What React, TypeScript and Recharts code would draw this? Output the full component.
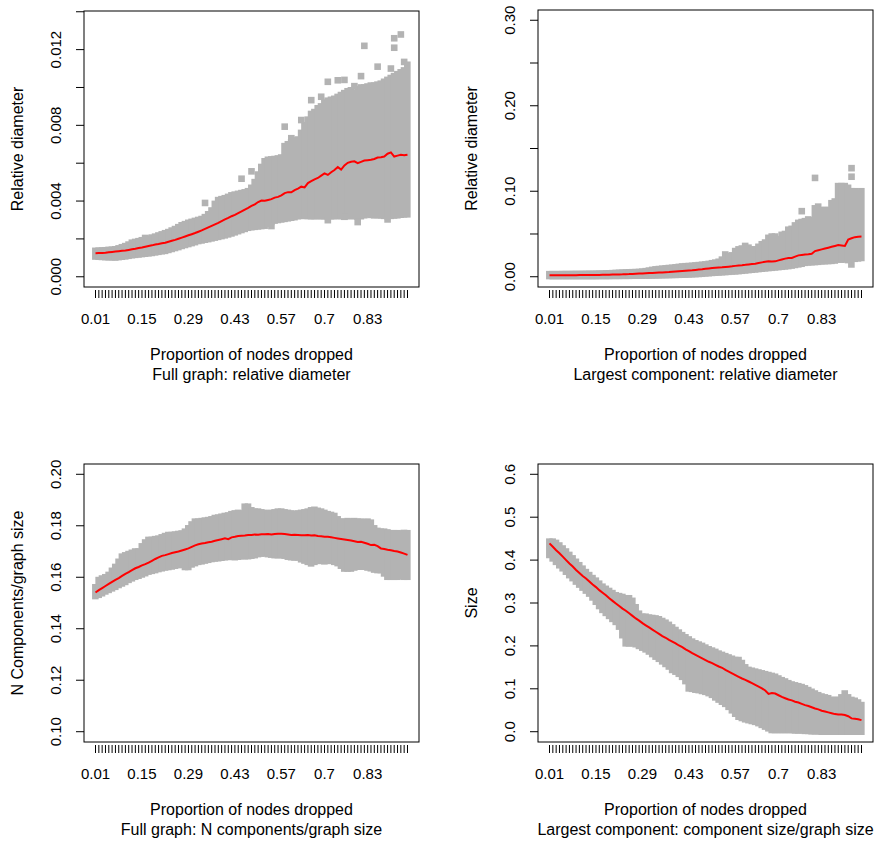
import React from 'react';
import { ComposedChart, Bar, Line, XAxis, YAxis } from 'recharts';

// Categories: proportion of nodes dropped
const PROPORTIONS = [
  0.01, 0.02, 0.03, 0.04, 0.05, 0.06, 0.07, 0.08, 0.09, 0.1,
  0.11, 0.12, 0.13, 0.14, 0.15, 0.16, 0.17, 0.18, 0.19, 0.2,
  0.21, 0.22, 0.23, 0.24, 0.25, 0.26, 0.27, 0.28, 0.29, 0.3,
  0.31, 0.32, 0.33, 0.34, 0.35, 0.36, 0.37, 0.38, 0.39, 0.4,
  0.41, 0.42, 0.43, 0.44, 0.45, 0.46, 0.47, 0.48, 0.49, 0.5,
  0.51, 0.52, 0.53, 0.54, 0.55, 0.56, 0.57, 0.58, 0.59, 0.6,
  0.61, 0.62, 0.63, 0.64, 0.65, 0.66, 0.67, 0.68, 0.69, 0.7,
  0.71, 0.72, 0.73, 0.74, 0.75, 0.76, 0.77, 0.78, 0.79, 0.8,
  0.81, 0.82, 0.83, 0.84, 0.85, 0.86, 0.87, 0.88, 0.89, 0.9,
  0.91, 0.92, 0.93, 0.94, 0.95,
];
// x tick labels that R had room to print
const X_TICK_LABELS = ['0.01', '0.15', '0.29', '0.43', '0.57', '0.7', '0.83'];

// ---------- Panel 1: Full graph, relative diameter ----------
const P1_MEAN = [
  0.00124, 0.00125, 0.00126, 0.00127, 0.00129, 0.00131, 0.00133, 0.00135, 0.00137, 0.00139,
  0.00142, 0.00145, 0.00148, 0.00152, 0.00155, 0.00159, 0.00163, 0.00166, 0.0017, 0.00173,
  0.00177, 0.0018, 0.00185, 0.0019, 0.00195, 0.00201, 0.00207, 0.00213, 0.00219, 0.00225,
  0.00231, 0.00238, 0.00245, 0.00253, 0.00261, 0.00269, 0.00277, 0.00285, 0.00294, 0.00303,
  0.00311, 0.0032, 0.00327, 0.00336, 0.00345, 0.00355, 0.00364, 0.00374, 0.00383, 0.00395,
  0.00403, 0.00402, 0.00406, 0.0041, 0.00418, 0.00422, 0.0043, 0.00442, 0.00447, 0.00446,
  0.00458, 0.00466, 0.00476, 0.00472, 0.00495, 0.00505, 0.00515, 0.00522, 0.00534, 0.00546,
  0.00538, 0.00552, 0.00564, 0.0058, 0.00566, 0.00588, 0.00602, 0.00608, 0.0061, 0.006,
  0.00607, 0.00614, 0.00616, 0.00618, 0.00622, 0.0063, 0.00632, 0.00635, 0.0065, 0.00657,
  0.00635, 0.0064, 0.00644, 0.00642, 0.00645,
];
const P1_HIGH = [
  0.00137, 0.00138, 0.00139, 0.0014, 0.00142, 0.00143, 0.00145, 0.0015, 0.00156, 0.00162,
  0.0017, 0.0018, 0.00184, 0.00188, 0.00193, 0.00205, 0.00202, 0.00207, 0.00212, 0.00218,
  0.00224, 0.0023, 0.00236, 0.00244, 0.00252, 0.00262, 0.00272, 0.00278, 0.00285, 0.0029,
  0.00295, 0.003, 0.00305, 0.00315, 0.0033, 0.0035, 0.00385, 0.00405, 0.0041, 0.00415,
  0.00422, 0.0043, 0.00434, 0.00438, 0.00442, 0.00446, 0.00452, 0.0047, 0.005, 0.0054,
  0.0058, 0.0061, 0.00618, 0.0062, 0.00622, 0.00625, 0.0063, 0.0069, 0.007, 0.0071,
  0.0072, 0.00725, 0.0076, 0.008, 0.0083, 0.0086, 0.0087, 0.0089, 0.009, 0.0092,
  0.0093, 0.00935, 0.0094, 0.0095, 0.0096, 0.0097, 0.0098, 0.00985, 0.0097, 0.0099,
  0.01, 0.01, 0.01005, 0.0101, 0.0101, 0.01015, 0.0102, 0.0103, 0.0104, 0.0105,
  0.0106, 0.0107, 0.0108, 0.0109, 0.0112,
];
const P1_LOW = [
  0.00107, 0.00106, 0.00105, 0.00104, 0.00103, 0.00103, 0.00102, 0.00104, 0.00106, 0.00108,
  0.00111, 0.00114, 0.00116, 0.00118, 0.0012, 0.00122, 0.00124, 0.00126, 0.00129, 0.00132,
  0.00135, 0.00137, 0.00142, 0.00147, 0.00152, 0.00157, 0.00163, 0.00168, 0.00173, 0.00178,
  0.00183, 0.00189, 0.00192, 0.00196, 0.00199, 0.00203, 0.00207, 0.00211, 0.00215, 0.00219,
  0.00224, 0.00229, 0.00235, 0.00241, 0.00247, 0.00253, 0.00259, 0.00262, 0.00264, 0.00266,
  0.00268, 0.0027, 0.0028, 0.0029, 0.00297, 0.003, 0.00303, 0.00306, 0.00309, 0.00312,
  0.00315, 0.0032, 0.00322, 0.00322, 0.00321, 0.0032, 0.0032, 0.00321, 0.0032, 0.0032,
  0.00318, 0.0032, 0.0032, 0.00322, 0.0032, 0.00318, 0.0032, 0.00322, 0.0032, 0.00318,
  0.0032, 0.00325, 0.00329, 0.00327, 0.00325, 0.00326, 0.00324, 0.00322, 0.0032, 0.00322,
  0.00324, 0.00325, 0.00328, 0.0033, 0.0033,
];
// isolated squares: [category index, value]
const P1_OUTLIERS: [number, number][] = [
  [33, 0.0039], [44, 0.00518], [47, 0.00557], [57, 0.00793], [59, 0.00732], [62, 0.00828],
  [65, 0.00933], [68, 0.00951], [70, 0.0103], [73, 0.01038], [75, 0.0104], [78, 0.01007],
  [80, 0.0106], [81, 0.0122], [85, 0.0111], [89, 0.011], [90, 0.0121], [90, 0.0126],
  [92, 0.0128], [93, 0.01135],
  [53, 0.00268], [70, 0.00299], [75, 0.00317], [79, 0.00289], [88, 0.00303],
];
const P1_TICKS = [0, 0.002, 0.004, 0.006, 0.008, 0.01, 0.012, 0.014];
const P1_TICK_LABELS = ['0.000', '', '0.004', '', '0.008', '', '0.012', ''];

// ---------- Panel 2: Largest component, relative diameter ----------
const P2_MEAN = [
  0.0016, 0.0016, 0.0016, 0.0017, 0.0017, 0.0017, 0.0018, 0.0018, 0.0018, 0.0019,
  0.0019, 0.0019, 0.002, 0.002, 0.0021, 0.0021, 0.0022, 0.0023, 0.0024, 0.0025,
  0.0026, 0.0027, 0.0028, 0.003, 0.0031, 0.0033, 0.0035, 0.0037, 0.0039, 0.0041,
  0.0043, 0.0045, 0.0047, 0.0049, 0.0051, 0.0053, 0.0055, 0.0058, 0.0061, 0.0064,
  0.0067, 0.007, 0.0073, 0.0076, 0.008, 0.0084, 0.0088, 0.0093, 0.0097, 0.0101,
  0.0104, 0.0107, 0.011, 0.0114, 0.0118, 0.0122, 0.0127, 0.0132, 0.0135, 0.0139,
  0.0144, 0.0148, 0.0152, 0.016, 0.0168, 0.0175, 0.018, 0.0179, 0.018, 0.0191,
  0.0202, 0.0212, 0.022, 0.0219, 0.0236, 0.025, 0.0255, 0.026, 0.0262, 0.0268,
  0.03, 0.031, 0.032, 0.033, 0.034, 0.035, 0.036, 0.037, 0.0365, 0.036,
  0.0436, 0.045, 0.0463, 0.0468, 0.047,
];
const P2_HIGH = [
  0.003, 0.003, 0.003, 0.003, 0.0031, 0.0031, 0.0031, 0.0032, 0.0032, 0.0032,
  0.0033, 0.0033, 0.0034, 0.0034, 0.0035, 0.0036, 0.0037, 0.0039, 0.004, 0.0042,
  0.0044, 0.0046, 0.0048, 0.005, 0.0052, 0.0053, 0.0054, 0.0056, 0.006, 0.0065,
  0.0072, 0.008, 0.0086, 0.009, 0.0094, 0.0098, 0.0102, 0.0105, 0.011, 0.0115,
  0.012, 0.0123, 0.0125, 0.0128, 0.0132, 0.0136, 0.014, 0.0144, 0.015, 0.0158,
  0.0165, 0.0175, 0.02, 0.026, 0.024, 0.025, 0.03, 0.032, 0.033, 0.036,
  0.034, 0.032, 0.032, 0.035, 0.038, 0.04, 0.0455, 0.047, 0.047, 0.044,
  0.049, 0.05, 0.055, 0.056, 0.06, 0.063, 0.064, 0.065, 0.067, 0.066,
  0.08, 0.082, 0.078, 0.078, 0.078, 0.086, 0.088, 0.106, 0.106, 0.106,
  0.104, 0.1, 0.1, 0.098, 0.1,
];
const P2_LOW = [
  0.0008, 0.0008, 0.0008, 0.0008, 0.0008, 0.0008, 0.0008, 0.0008, 0.0008, 0.0008,
  0.0008, 0.0008, 0.0008, 0.0008, 0.0008, 0.0009, 0.0009, 0.0009, 0.0009, 0.001,
  0.001, 0.001, 0.0011, 0.0011, 0.0011, 0.0012, 0.0012, 0.0013, 0.0013, 0.0014,
  0.0014, 0.0015, 0.0016, 0.0017, 0.0018, 0.0019, 0.002, 0.0021, 0.0022, 0.0023,
  0.0024, 0.0025, 0.0027, 0.0029, 0.0031, 0.0033, 0.0035, 0.0039, 0.0042, 0.0045,
  0.0048, 0.005, 0.0053, 0.0055, 0.0058, 0.0061, 0.0063, 0.0066, 0.007, 0.0074,
  0.0078, 0.0082, 0.0086, 0.009, 0.0094, 0.0098, 0.0102, 0.0105, 0.0109, 0.0113,
  0.0117, 0.0121, 0.0125, 0.0131, 0.0138, 0.0145, 0.0152, 0.0163, 0.0167, 0.017,
  0.0172, 0.0175, 0.018, 0.0182, 0.0184, 0.0186, 0.019, 0.0202, 0.02, 0.0205,
  0.0195, 0.0144, 0.021, 0.0215, 0.022,
];
const P2_OUTLIERS: [number, number][] = [
  [76, 0.0767], [80, 0.1156], [91, 0.127], [91, 0.117],
];
const P2_TICKS = [0, 0.05, 0.1, 0.15, 0.2, 0.25, 0.3];
const P2_TICK_LABELS = ['0.00', '', '0.10', '', '0.20', '', '0.30'];

// ---------- Panel 3: Full graph, N components / graph size ----------
const P3_MEAN = [
  0.1541, 0.155, 0.1558, 0.1566, 0.1574, 0.1582, 0.159, 0.1597, 0.1605, 0.1613,
  0.162, 0.1628, 0.1635, 0.164, 0.1646, 0.1651, 0.1657, 0.1664, 0.1671, 0.1677,
  0.1683, 0.1686, 0.169, 0.1694, 0.1697, 0.17, 0.1704, 0.1708, 0.1712, 0.1718,
  0.1724, 0.1728, 0.1731, 0.1733, 0.1736, 0.1738, 0.1742, 0.1745, 0.1748, 0.1751,
  0.1748, 0.1755, 0.1757, 0.176, 0.1761, 0.1762, 0.1764, 0.1764, 0.1766, 0.1765,
  0.1767, 0.1767, 0.1768, 0.1766, 0.1768, 0.1769, 0.1769, 0.1768, 0.1766, 0.1764,
  0.1765, 0.1764, 0.1763, 0.1763, 0.1764, 0.1762, 0.1763, 0.176, 0.1759, 0.1757,
  0.1757, 0.1755, 0.1753, 0.1751, 0.1749, 0.1747, 0.1745, 0.1743, 0.174, 0.1737,
  0.1738, 0.1734, 0.173, 0.1725, 0.1726, 0.1721, 0.1712, 0.171, 0.1707, 0.1705,
  0.1702, 0.17, 0.1696, 0.1692, 0.1687,
];
const P3_HIGH = [
  0.1561, 0.1589, 0.1595, 0.16, 0.1609, 0.1625, 0.164, 0.166, 0.168, 0.1685,
  0.169, 0.1695, 0.17, 0.17, 0.172, 0.1735, 0.1745, 0.1745, 0.1748, 0.175,
  0.1755, 0.176, 0.1764, 0.1764, 0.1766, 0.1768, 0.177, 0.1777, 0.179, 0.1805,
  0.1816, 0.1816, 0.1818, 0.182, 0.1822, 0.1825, 0.183, 0.1832, 0.1835, 0.1838,
  0.184, 0.1845, 0.1848, 0.185, 0.1848, 0.1874, 0.1874, 0.186, 0.1855, 0.1855,
  0.1852, 0.185, 0.1848, 0.185, 0.1852, 0.1855, 0.1855, 0.1852, 0.185, 0.1848,
  0.1845, 0.1848, 0.185, 0.1852, 0.1855, 0.186, 0.1862, 0.1858, 0.1855, 0.185,
  0.1845, 0.1842, 0.1838, 0.1825, 0.1816, 0.1816, 0.1818, 0.1816, 0.1818, 0.1816,
  0.1816, 0.1814, 0.1816, 0.1812, 0.179, 0.178, 0.1777, 0.1777, 0.1774, 0.1771,
  0.1771, 0.1771, 0.177, 0.1772, 0.1771,
];
const P3_LOW = [
  0.1527, 0.1532, 0.1538, 0.1545, 0.1551, 0.1557, 0.1563, 0.157, 0.1576, 0.1582,
  0.159, 0.1596, 0.1602, 0.1606, 0.1611, 0.1616, 0.1622, 0.1625, 0.1628, 0.1632,
  0.1635, 0.1638, 0.164, 0.1642, 0.1645, 0.1648, 0.1648, 0.164, 0.164, 0.165,
  0.1655, 0.166, 0.1662, 0.1665, 0.1668, 0.1671, 0.1673, 0.1674, 0.1676, 0.1678,
  0.1679, 0.168, 0.1678, 0.168, 0.1682, 0.1682, 0.1682, 0.1684, 0.1686, 0.169,
  0.1692, 0.1693, 0.169, 0.1688, 0.1686, 0.1686, 0.1686, 0.1684, 0.168, 0.1678,
  0.1677, 0.1677, 0.167, 0.1665, 0.166, 0.1654, 0.166, 0.1664, 0.1664, 0.1662,
  0.1664, 0.1664, 0.166, 0.1655, 0.1645, 0.1634, 0.1634, 0.1634, 0.1638, 0.1641,
  0.1641, 0.1641, 0.1638, 0.1635, 0.163, 0.1628, 0.1628, 0.1615, 0.1602, 0.1602,
  0.1602, 0.1602, 0.1605, 0.1602, 0.1602,
];
const P3_OUTLIERS: [number, number][] = [];
const P3_TICKS = [0.1, 0.12, 0.14, 0.16, 0.18, 0.2];
const P3_TICK_LABELS = ['0.10', '0.12', '0.14', '0.16', '0.18', '0.20'];

// ---------- Panel 4: Largest component, component size / graph size ----------
const P4_MEAN = [
  0.439, 0.431, 0.423, 0.416, 0.408, 0.4, 0.392, 0.385, 0.377, 0.37,
  0.363, 0.357, 0.35, 0.343, 0.337, 0.33, 0.324, 0.318, 0.311, 0.305,
  0.299, 0.293, 0.287, 0.282, 0.276, 0.27, 0.264, 0.259, 0.253, 0.248,
  0.243, 0.238, 0.233, 0.228, 0.223, 0.219, 0.214, 0.21, 0.206, 0.201,
  0.197, 0.192, 0.188, 0.183, 0.179, 0.175, 0.171, 0.167, 0.163, 0.16,
  0.156, 0.152, 0.149, 0.144, 0.14, 0.136, 0.132, 0.128, 0.124, 0.121,
  0.117, 0.113, 0.109, 0.105, 0.101, 0.096, 0.088, 0.09, 0.089, 0.085,
  0.081, 0.078, 0.075, 0.073, 0.07, 0.068, 0.065, 0.062, 0.06, 0.057,
  0.054, 0.052, 0.049, 0.047, 0.045, 0.043, 0.041, 0.04, 0.04, 0.039,
  0.036, 0.031, 0.03, 0.029, 0.027,
];
const P4_HIGH = [
  0.443, 0.443, 0.44, 0.434, 0.427, 0.42, 0.412, 0.404, 0.396, 0.388,
  0.38, 0.372, 0.365, 0.358, 0.352, 0.345, 0.338, 0.333, 0.328, 0.323,
  0.318, 0.316, 0.314, 0.311, 0.311, 0.305, 0.29, 0.275, 0.268, 0.268,
  0.266, 0.265, 0.264, 0.262, 0.258, 0.254, 0.249, 0.243, 0.237, 0.231,
  0.225, 0.22, 0.215, 0.21, 0.206, 0.203, 0.2, 0.196, 0.192, 0.189,
  0.186, 0.182, 0.179, 0.176, 0.173, 0.17, 0.167, 0.167, 0.16, 0.15,
  0.144, 0.142, 0.14, 0.138, 0.136, 0.134, 0.132, 0.13, 0.128, 0.124,
  0.12, 0.117, 0.113, 0.11, 0.108, 0.106, 0.104, 0.101, 0.097, 0.093,
  0.089, 0.085, 0.082, 0.08, 0.078, 0.074, 0.074, 0.074, 0.08, 0.089,
  0.08, 0.074, 0.072, 0.068, 0.062,
];
const P4_LOW = [
  0.412, 0.404, 0.396, 0.388, 0.381, 0.373, 0.365, 0.358, 0.35, 0.343,
  0.336, 0.329, 0.322, 0.313, 0.303, 0.293, 0.284, 0.277, 0.27, 0.263,
  0.256, 0.245, 0.225, 0.206, 0.206, 0.206, 0.204, 0.2, 0.196, 0.192,
  0.187, 0.181, 0.175, 0.17, 0.164, 0.158, 0.152, 0.144, 0.14, 0.135,
  0.128, 0.118, 0.101, 0.1, 0.098, 0.097, 0.095, 0.093, 0.09, 0.086,
  0.08, 0.075, 0.07, 0.065, 0.058, 0.05, 0.042, 0.035, 0.032, 0.029,
  0.027, 0.025, 0.023, 0.02, 0.016, 0.012, 0.008, 0.004, 0.004, 0.004,
  0.004, 0.004, 0.004, 0.004, 0.003, 0.003, 0.003, 0.002, 0.002, 0.001,
  0.001, 0.001, 0, 0, 0, 0, 0, 0, 0, 0,
  0, 0, 0, 0, 0,
];
const P4_OUTLIERS: [number, number][] = [];
const P4_TICKS = [0, 0.1, 0.2, 0.3, 0.4, 0.5, 0.6];
const P4_TICK_LABELS = ['0.0', '0.1', '0.2', '0.3', '0.4', '0.5', '0.6'];

const X_TITLE = 'Proportion of nodes dropped';

// ---------- styling ----------
const FONT = '"Liberation Sans", Arial, Helvetica, sans-serif';
const FS_TICK = 15;
const FS_TITLE = 16;
const GRAY = '#B3B3B3';
const RED = '#FF0000';
const SQ = 6.6;

type Geom = { left: number; top: number; width: number; height: number; boxL: number; boxT: number; boxR: number; boxB: number };

type PanelDef = {
  mean: number[]; high: number[]; low: number[]; outliers: [number, number][];
  domain: [number, number]; ticks: number[]; tickLabels: string[];
  yTitle: string; sub: string; geom: Geom;
};

const PANELS: PanelDef[] = [
  {
    mean: P1_MEAN, high: P1_HIGH, low: P1_LOW, outliers: P1_OUTLIERS,
    domain: [-0.00054, 0.01404], ticks: P1_TICKS, tickLabels: P1_TICK_LABELS,
    yTitle: 'Relative diameter', sub: 'Full graph: relative diameter',
    geom: { left: 0, top: 0, width: 438, height: 400, boxL: 84, boxT: 11, boxR: 419, boxB: 287 },
  },
  {
    mean: P2_MEAN, high: P2_HIGH, low: P2_LOW, outliers: P2_OUTLIERS,
    domain: [-0.012, 0.312], ticks: P2_TICKS, tickLabels: P2_TICK_LABELS,
    yTitle: 'Relative diameter', sub: 'Largest component: relative diameter',
    geom: { left: 440, top: 0, width: 436, height: 400, boxL: 98, boxT: 10, boxR: 433, boxB: 287 },
  },
  {
    mean: P3_MEAN, high: P3_HIGH, low: P3_LOW, outliers: P3_OUTLIERS,
    domain: [0.096, 0.204], ticks: P3_TICKS, tickLabels: P3_TICK_LABELS,
    yTitle: 'N Components/graph size', sub: 'Full graph: N components/graph size',
    geom: { left: 0, top: 420, width: 438, height: 421, boxL: 84, boxT: 44, boxR: 419, boxB: 322 },
  },
  {
    mean: P4_MEAN, high: P4_HIGH, low: P4_LOW, outliers: P4_OUTLIERS,
    domain: [-0.024, 0.624], ticks: P4_TICKS, tickLabels: P4_TICK_LABELS,
    yTitle: 'Size', sub: 'Largest component: component size/graph size',
    geom: { left: 440, top: 420, width: 436, height: 421, boxL: 98, boxT: 44, boxR: 433, boxB: 322 },
  },
];

function buildRows(p: PanelDef) {
  return PROPORTIONS.map((prop, i) => {
    const row: any = { p: prop, mean: p.mean[i], band: [p.low[i], p.high[i]] };
    p.outliers.filter((o) => o[0] === i).forEach((o, k) => { row['o' + (k + 1)] = o[1]; });
    return row;
  });
}

const BandShape = (props: any) => {
  const { x, y, width, height } = props;
  if (x == null || y == null || isNaN(y)) return <g />;
  const top = Math.min(y, y + height);
  const h = Math.abs(height);
  const cx = x + width / 2;
  return <rect x={cx - SQ / 2} y={top - SQ / 2} width={SQ} height={h + SQ} fill={GRAY} />;
};

const SquareDot = (props: any) => {
  const { cx, cy, index } = props;
  if (cx == null || cy == null || isNaN(cy)) return <g key={'n' + index} />;
  return <rect key={'s' + index} x={cx - SQ / 2} y={cy - SQ / 2} width={SQ} height={SQ} fill={GRAY} />;
};

function makeXTick(p: PanelDef) {
  const g = p.geom;
  return (props: any) => {
    const { x, payload, index } = props;
    const label = String(payload.value);
    const show = X_TICK_LABELS.includes(label);
    const cx = (g.boxL + g.boxR) / 2;
    return (
      <g>
        <line x1={x} x2={x} y1={g.boxB + 3} y2={g.boxB + 11} stroke="#000" strokeWidth={1} />
        {show && (
          <text x={x} y={g.boxB + 36.5} textAnchor="middle" fontFamily={FONT} fontSize={FS_TICK} fill="#000">{label}</text>
        )}
        {index === 0 && (
          <g>
            <text x={cx} y={g.boxB + 72.5} textAnchor="middle" fontFamily={FONT} fontSize={FS_TITLE} fill="#000">{X_TITLE}</text>
            <text x={cx} y={g.boxB + 93} textAnchor="middle" fontFamily={FONT} fontSize={FS_TITLE} fill="#000">{p.sub}</text>
          </g>
        )}
      </g>
    );
  };
}

function makeYTick(p: PanelDef) {
  const g = p.geom;
  return (props: any) => {
    const { y, payload, index } = props;
    const idx = p.ticks.findIndex((t) => Math.abs(t - payload.value) < 1e-9);
    const label = idx >= 0 ? p.tickLabels[idx] : '';
    const cy = (g.boxT + g.boxB) / 2;
    return (
      <g>
        {index === 0 && (
          <g>
            <rect x={g.boxL} y={g.boxT} width={g.boxR - g.boxL} height={g.boxB - g.boxT} fill="none" stroke="#000" strokeWidth={1} />
            <text transform={`translate(${g.boxL - 61},${cy}) rotate(-90)`} textAnchor="middle" fontFamily={FONT} fontSize={FS_TITLE} fill="#000">{p.yTitle}</text>
          </g>
        )}
        <line x1={g.boxL - 8} x2={g.boxL} y1={y} y2={y} stroke="#000" strokeWidth={1} />
        {label && (
          <text transform={`translate(${g.boxL - 23.5},${y}) rotate(-90)`} textAnchor="middle" fontFamily={FONT} fontSize={FS_TICK} fill="#000">{label}</text>
        )}
      </g>
    );
  };
}

function Panel({ p }: { p: PanelDef }) {
  const g = p.geom;
  const rows = buildRows(p);
  const pad = 9.85;
  return (
    <div style={{ position: 'absolute', left: g.left, top: g.top, width: g.width, height: g.height }}>
      <ComposedChart
        width={g.width}
        height={g.height}
        data={rows}
        margin={{ top: g.boxT, right: g.width - g.boxR, bottom: 0, left: 0 }}
        barCategoryGap={0}
        barGap={0}
      >
        <XAxis
          dataKey="p"
          type="category"
          interval={0}
          height={g.height - g.boxB}
          padding={{ left: pad, right: pad }}
          axisLine={false}
          tickLine={false}
          tick={makeXTick(p)}
        />
        <YAxis
          type="number"
          width={g.boxL}
          domain={p.domain}
          allowDataOverflow
          ticks={p.ticks}
          interval={0}
          axisLine={false}
          tickLine={false}
          tick={makeYTick(p)}
        />
        <Bar dataKey="band" shape={BandShape} isAnimationActive={false} />
        <Line dataKey="o1" stroke="none" dot={SquareDot} activeDot={false} isAnimationActive={false} />
        <Line dataKey="o2" stroke="none" dot={SquareDot} activeDot={false} isAnimationActive={false} />
        <Line dataKey="mean" type="linear" stroke={RED} strokeWidth={2} dot={false} activeDot={false} isAnimationActive={false} />
      </ComposedChart>
    </div>
  );
}

export default function App() {
  return (
    <div style={{ position: 'absolute', left: 0, top: 0, width: 876, height: 841, background: '#fff' }}>
      {PANELS.map((p, i) => <Panel key={i} p={p} />)}
    </div>
  );
}
